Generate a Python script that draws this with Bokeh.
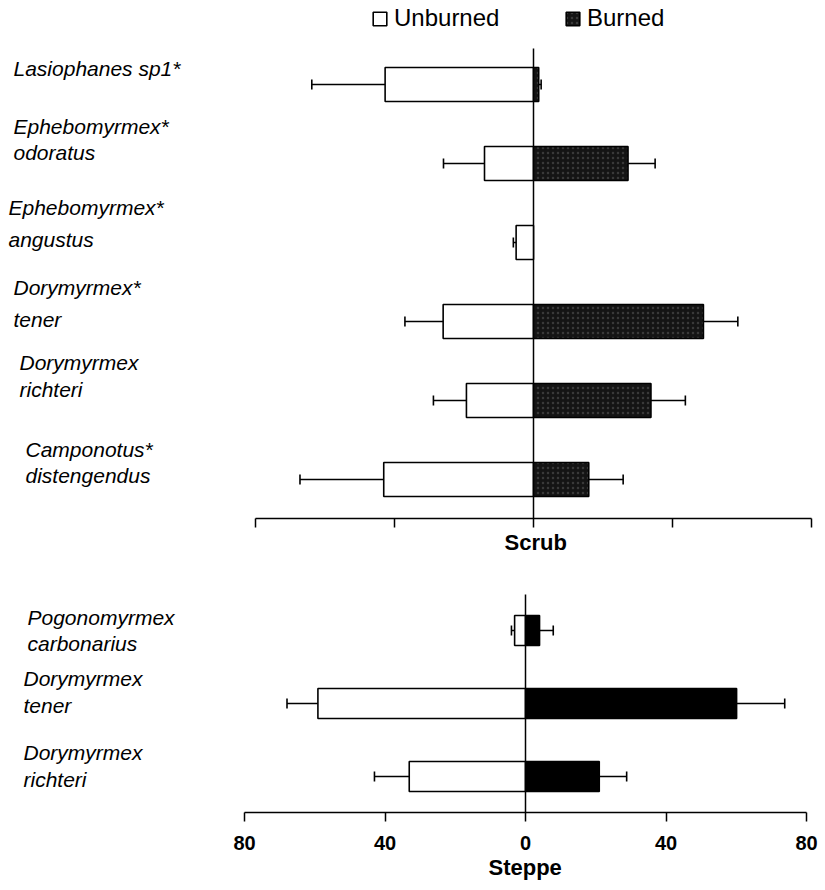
from bokeh.plotting import figure
from bokeh.models import (ColumnDataSource, Range1d, FixedTicker, Whisker, TeeHead,
                          Legend, LegendItem, Title)
from bokeh.layouts import column
from bokeh.embed import file_html
from bokeh.resources import INLINE
from bokeh.core.properties import value

FONT = "Liberation Sans"

# ---------------- data ----------------
scrub_line1 = ["Lasiophanes sp1*", "Ephebomyrmex*", "Ephebomyrmex*", "Dorymyrmex*", "Dorymyrmex", "Camponotus*"]
scrub_line2 = ["", "odoratus", "angustus", "tener", "richteri", "distengendus"]
scrub_unburned = [42.7, 14.1, 5.0, 26.0, 19.3, 43.1]
scrub_unburned_err = [21.1, 11.8, 0.8, 11.0, 9.5, 24.1]
scrub_burned = [1.5, 27.2, 0.0, 48.9, 33.8, 15.9]
scrub_burned_err = [0.7, 7.8, 0.0, 9.9, 9.9, 9.9]

steppe_line1 = ["Pogonomyrmex", "Dorymyrmex", "Dorymyrmex"]
steppe_line2 = ["carbonarius", "tener", "richteri"]
steppe_unburned = [3.1, 59.1, 33.1]
steppe_unburned_err = [0.9, 8.8, 9.9]
steppe_burned = [4.0, 60.1, 21.0]
steppe_burned_err = [3.9, 13.7, 7.8]

axis_ticks = [-80, -40, 0, 40, 80]
axis_tick_labels = ["80", "40", "0", "40", "80"]

W = 825   # figure width
ORG = 0   # page offset of the figures


def make_panel(line1, line2, unb, unb_err, bur, bur_err, *, fig_top, axis_px, bottom_border,
               zero_px, ppu, row0_px, row_step, zero_top_px, bar_h_px,
               label_x_px, label_base1_px, label_base2_px, burned_style,
               axis_label, title_offset, tick_labels, legend_pos=None):
    xd = lambda px: (px - zero_px) / ppu
    yd = lambda py: (py - row0_px) / row_step
    height = (axis_px - fig_top) + bottom_border
    p = figure(width=W, height=height, output_backend="svg", toolbar_location=None,
               x_range=Range1d(xd(ORG), xd(ORG + W)),
               y_range=Range1d(yd(axis_px), yd(fig_top)),
               min_border_left=0, min_border_right=0, min_border_top=0,
               min_border_bottom=bottom_border, y_axis_location=None)
    p.outline_line_color = None
    p.grid.visible = False
    p.background_fill_color = "white"
    p.border_fill_color = "white"

    rows = list(range(len(unb)))
    bh = bar_h_px / row_step

    # zero line
    p.segment(x0=[0], y0=[yd(zero_top_px)], x1=[0], y1=[yd(axis_px)],
              line_color="black", line_width=1.5)

    src_u = ColumnDataSource(dict(y=rows, left=[-v for v in unb], right=[0] * len(unb)))
    r_u = p.hbar(y="y", left="left", right="right", height=bh, source=src_u,
                 fill_color="white", line_color="black", line_width=1.6)
    keep = [i for i in rows if bur[i] > 0]
    src_b = ColumnDataSource(dict(y=[rows[i] for i in keep], left=[0] * len(keep),
                                  right=[bur[i] for i in keep]))
    r_b = p.hbar(y="y", left="left", right="right", height=bh, source=src_b,
                 line_color="black", line_width=1.6, **burned_style)

    # error bars (outer side only)
    ku = [i for i in rows if unb_err[i] > 0]
    src_ue = ColumnDataSource(dict(y=[rows[i] for i in ku],
                                   lower=[-(unb[i] + unb_err[i]) for i in ku],
                                   upper=[-unb[i] for i in ku]))
    p.add_layout(Whisker(source=src_ue, base="y", lower="lower", upper="upper",
                         dimension="width", line_color="black", line_width=1.4,
                         lower_head=TeeHead(size=10, line_width=1.6, line_color="black"),
                         upper_head=None))
    kb = [i for i in rows if bur_err[i] > 0]
    src_be = ColumnDataSource(dict(y=[rows[i] for i in kb],
                                   lower=[bur[i] for i in kb],
                                   upper=[bur[i] + bur_err[i] for i in kb]))
    p.add_layout(Whisker(source=src_be, base="y", lower="lower", upper="upper",
                         dimension="width", line_color="black", line_width=1.4,
                         upper_head=TeeHead(size=10, line_width=1.6, line_color="black"),
                         lower_head=None))

    # species labels
    tx, ty, tt = [], [], []
    for i in rows:
        tx.append(xd(label_x_px[i])); ty.append(yd(label_base1_px[i])); tt.append(line1[i])
        if line2[i]:
            tx.append(xd(label_x_px[i])); ty.append(yd(label_base2_px[i])); tt.append(line2[i])
    p.text(x=tx, y=ty, text=tt, text_font=value(FONT), text_font_style="italic",
           text_font_size="21px", text_align="left", text_baseline="alphabetic",
           text_color="black")

    ax = p.xaxis[0]
    ax.ticker = FixedTicker(ticks=axis_ticks)
    ax.bounds = (-80, 80)
    ax.minor_tick_line_color = None
    ax.major_tick_in = 0
    ax.major_tick_out = 9
    ax.major_tick_line_width = 1.5
    ax.major_tick_line_color = "black"
    ax.axis_line_width = 1.5
    ax.axis_line_color = "black"
    if tick_labels:
        ax.major_label_overrides = {t: l for t, l in zip(axis_ticks, axis_tick_labels)}
        ax.major_label_text_font = FONT
        ax.major_label_text_font_style = "bold"
        ax.major_label_text_font_size = "20px"
        ax.major_label_text_color = "black"
        ax.major_label_standoff = 14
    else:
        ax.major_label_overrides = {t: "" for t in axis_ticks}
        ax.major_label_standoff = 0

    p.add_layout(Title(text=axis_label, align="left", offset=title_offset,
                       text_font=FONT, text_font_style="bold", text_font_size="22px",
                       standoff=0, text_color="black"), "below")

    if legend_pos is not None:
        leg = Legend(items=[LegendItem(label="Unburned", renderers=[r_u]),
                            LegendItem(label="Burned", renderers=[r_b])],
                     orientation="horizontal", location=legend_pos,
                     glyph_width=17, glyph_height=17, label_standoff=6, label_width=170,
                     spacing=0, padding=0, margin=0,
                     border_line_alpha=0, background_fill_alpha=0,
                     label_text_font=FONT, label_text_font_size="24px",
                     label_text_color="black")
        p.add_layout(leg, "center")
    return p


scrub_style = dict(fill_color="#141414", hatch_pattern="dot", hatch_color="#9a9a9a",
                   hatch_scale=5, hatch_weight=0.7, hatch_alpha=0.28)
steppe_style = dict(fill_color="black")

p1 = make_panel(scrub_line1, scrub_line2, scrub_unburned, scrub_unburned_err,
                scrub_burned, scrub_burned_err,
                fig_top=0, axis_px=518, bottom_border=44,
                zero_px=533, ppu=3.475, row0_px=84, row_step=79, zero_top_px=48, bar_h_px=34,
                label_x_px=[13, 13, 8, 13, 19, 25],
                label_base1_px=[68, 126, 207, 287, 362, 449],
                label_base2_px=[0, 152, 239, 319, 389, 475],
                burned_style=scrub_style, axis_label="Scrub", title_offset=504,
                tick_labels=False, legend_pos=(371, 486))

p2 = make_panel(steppe_line1, steppe_line2, steppe_unburned, steppe_unburned_err,
                steppe_burned, steppe_burned_err,
                fig_top=562, axis_px=812, bottom_border=78,
                zero_px=525, ppu=3.5125, row0_px=630, row_step=73, zero_top_px=594, bar_h_px=30,
                label_x_px=[27, 23, 23],
                label_base1_px=[617, 678, 752],
                label_base2_px=[643, 705, 779],
                burned_style=steppe_style, axis_label="Steppe", title_offset=488,
                tick_labels=True)

layout = column(p1, p2, spacing=0)
open("out.html", "w").write(file_html(layout, INLINE))
